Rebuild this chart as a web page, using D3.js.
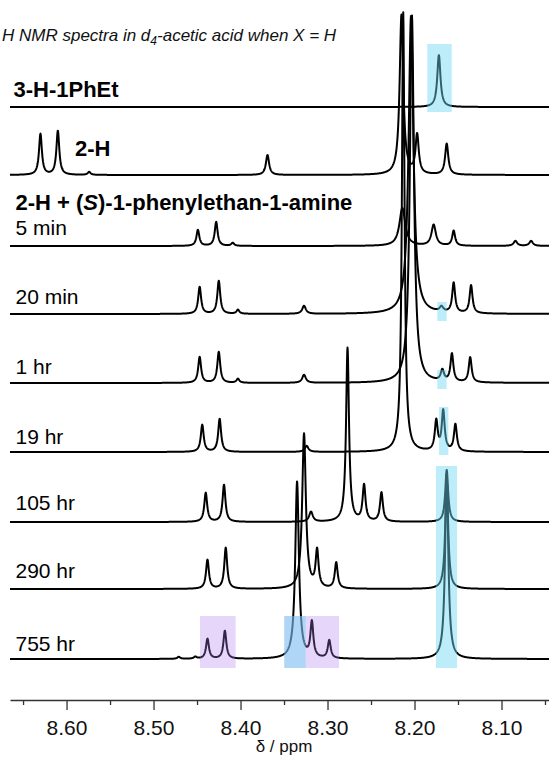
<!DOCTYPE html>
<html>
<head>
<meta charset="utf-8">
<script src="https://cdn.jsdelivr.net/npm/d3@7"></script>
<style>
  html, body { margin: 0; padding: 0; background: #fff; }
  svg { display: block; font-family: "Liberation Sans", Arial, Helvetica, sans-serif; }
</style>
</head>
<body>
<div id="canvas"></div>
<script>
// spectrum names (top to bottom)
const names = ["3-H-1PhEt", "2-H", "5 min", "20 min", "1 hr", "19 hr", "105 hr", "290 hr", "755 hr"];

// peaks: [shift ppm, intensity, half width ppm]
const peaks3H = [[8.172, 52, 0.0022]];
const peaks2H = [[8.630, 41, 0.002], [8.610, 44, 0.002], [8.574, 3, 0.002], [8.369, 20, 0.0022],
  [8.215, 160, 0.0025], [8.197, 39, 0.0022], [8.163, 31, 0.0022]];
const peaks5min = [[8.449, 16, 0.002], [8.428, 24, 0.002], [8.409, 3, 0.002], [8.214, 38, 0.004],
  [8.178, 21, 0.003], [8.155, 15, 0.002], [8.084, 5, 0.0025], [8.066, 5, 0.0025]];
const peaks20min = [[8.447, 27, 0.002], [8.425, 33, 0.002], [8.403, 4, 0.002], [8.327, 8, 0.0025],
  [8.204, 298, 0.0033], [8.169, 5, 0.0025], [8.155, 30, 0.002], [8.135, 28, 0.002]];
const peaks1hr = [[8.447, 26, 0.002], [8.425, 31, 0.002], [8.403, 4, 0.002], [8.327, 8, 0.0025],
  [8.203, 368, 0.0028], [8.168, 11, 0.0022], [8.157, 28, 0.002], [8.136, 25, 0.002]];
const peaks19hr = [[8.444, 27, 0.002], [8.424, 33, 0.002], [8.324, 6, 0.0025], [8.213, 440, 0.0018],
  [8.175, 30, 0.002], [8.167, 40, 0.002], [8.153, 27, 0.002]];
const peaks105hr = [[8.440, 29, 0.002], [8.419, 37, 0.002], [8.319, 10, 0.0025], [8.277, 174, 0.002],
  [8.258, 36, 0.002], [8.238, 29, 0.002], [8.163, 52, 0.002]];
const peaks290hr = [[8.438, 29, 0.002], [8.417, 41, 0.002], [8.327, 155, 0.0025], [8.312, 37, 0.002],
  [8.290, 26, 0.002], [8.163, 110, 0.002]];
const peaks755hr = [[8.471, 2, 0.002], [8.452, 2, 0.002], [8.438, 20, 0.002], [8.418, 28, 0.002],
  [8.335, 177, 0.0025], [8.318, 35, 0.002], [8.298, 18, 0.002], [8.163, 185, 0.0022]];

const majorTicks = [8.60, 8.50, 8.40, 8.30, 8.20, 8.10];
const minorTicks = [8.65, 8.55, 8.45, 8.35, 8.25, 8.15, 8.05];

const spectra = [peaks3H, peaks2H, peaks5min, peaks20min, peaks1hr, peaks19hr, peaks105hr, peaks290hr, peaks755hr];

// layout
const width = 549, height = 758;
const rowBase = [107, 175, 246, 314, 383, 452, 522, 589, 659];
const axisY = 700;

const svg = d3.select("#canvas").append("svg")
  .attr("width", width)
  .attr("height", height);

const x = d3.scaleLinear().domain([8.665, 8.0454]).range([10, 549]);
const y = d3.scaleLinear().domain([0, 100]).range([0, 100]);

const grid = d3.range(10, 549.01, 0.25).map(px => x.invert(px));
const lorentz = (peaks, p) => d3.sum(peaks, ([p0, h, g]) => h * g * g / ((p - p0) * (p - p0) + g * g));

const line = d3.line().x(d => x(d[0])).y(d => d[1]);

svg.append("g").selectAll("path")
  .data(spectra)
  .enter()
  .append("path")
  .attr("d", (peaks, i) => line(grid.map(p => [p, rowBase[i] - y(lorentz(peaks, p))])))
  .attr("fill", "none")
  .attr("stroke", "#000")
  .attr("stroke-width", 2)
  .attr("stroke-linejoin", "round");

// highlight boxes
const boxes = [
  { p: [8.1853, 8.1572], y: [44, 112], c: "cyan" },
  { p: [8.1738, 8.1630], y: [302, 321], c: "cyan" },
  { p: [8.1738, 8.1630], y: [370, 389], c: "cyan" },
  { p: [8.1718, 8.1611], y: [407, 455], c: "cyan" },
  { p: [8.1753, 8.1511], y: [466, 668], c: "cyan" },
  { p: [8.4466, 8.4056], y: [616, 668], c: "purple" },
  { p: [8.3497, 8.2868], y: [616, 668], c: "purple" },
  { p: [8.3497, 8.3251], y: [616, 668], c: "cyan" }
];
const boxFill = { cyan: "rgb(110,215,245)", purple: "rgb(170,120,240)" };
const boxOpacity = { cyan: 0.45, purple: 0.3 };

svg.append("g").selectAll("rect")
  .data(boxes)
  .enter()
  .append("rect")
  .attr("x", d => x(d.p[0]))
  .attr("width", d => x(d.p[1]) - x(d.p[0]))
  .attr("y", d => d.y[0])
  .attr("height", d => d.y[1] - d.y[0])
  .attr("fill", d => boxFill[d.c])
  .attr("fill-opacity", d => boxOpacity[d.c]);

// axis
const gx = svg.append("g").attr("transform", `translate(0,${axisY})`);
gx.append("g")
  .call(d3.axisBottom(x).tickValues(minorTicks).tickSize(5).tickSizeOuter(0).tickFormat(""))
  .call(g => g.select(".domain").remove());
gx.append("g")
  .call(d3.axisBottom(x).tickValues(majorTicks).tickSize(10).tickSizeOuter(0).tickPadding(10).tickFormat(d3.format(".2f")));
gx.selectAll("line").attr("stroke", "#333").attr("stroke-width", 1.3);
gx.selectAll(".domain").attr("stroke", "#333").attr("stroke-width", 1.4);
gx.selectAll("text").attr("font-size", 21).attr("fill", "#111")
  .attr("font-family", "'Liberation Sans', Arial, sans-serif");

svg.append("text")
  .attr("x", 284).attr("y", 752)
  .attr("text-anchor", "middle")
  .attr("font-size", 17)
  .attr("fill", "#111")
  .text("δ / ppm");

// title
const title = svg.append("text")
  .attr("x", 2).attr("y", 41)
  .attr("font-size", 17)
  .attr("font-style", "italic")
  .attr("fill", "#111");
title.append("tspan").text("H NMR spectra in d");
title.append("tspan").attr("font-size", 12).attr("dy", 4).text("4");
title.append("tspan").attr("dy", -4).text("-acetic acid when X = H");

// labels
svg.append("text").attr("x", 13.5).attr("y", 97)
  .attr("font-size", 22).attr("font-weight", "bold").text(names[0]);
svg.append("text").attr("x", 75).attr("y", 156)
  .attr("font-size", 22).attr("font-weight", "bold").text(names[1]);
const amine = svg.append("text").attr("x", 15.5).attr("y", 210)
  .attr("font-size", 22).attr("font-weight", "bold");
amine.append("tspan").text("2-H + (");
amine.append("tspan").attr("font-style", "italic").text("S");
amine.append("tspan").text(")-1-phenylethan-1-amine");

const labelY = [null, null, 235, 304, 374, 444, 510, 578, 651];
svg.append("g").selectAll("text")
  .data(names.slice(2))
  .enter()
  .append("text")
  .attr("x", 15.5)
  .attr("y", (d, i) => labelY[i + 2])
  .attr("font-size", 21)
  .attr("fill", "#000")
  .text(d => d);
</script>
</body>
</html>
